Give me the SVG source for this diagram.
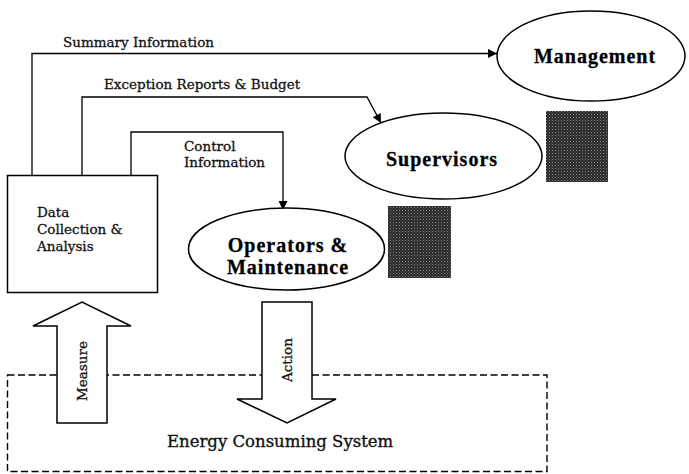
<svg xmlns="http://www.w3.org/2000/svg" width="689" height="474" viewBox="0 0 689 474">
<style>
.ln{fill:none;stroke:#000;stroke-width:1.3}
.nd{fill:#fff;stroke:#000;stroke-width:1.5}
.lbl{font-family:"DejaVu Serif","Liberation Serif",serif;font-size:13.5px;fill:#111;stroke:#111;stroke-width:0.3}
.big{font-family:"Liberation Serif","Times New Roman",serif;font-size:20px;font-weight:bold;letter-spacing:1px;fill:#000;stroke:#000;stroke-width:0.3}
.sys{font-family:"DejaVu Serif","Liberation Serif",serif;font-size:16.5px;fill:#111;stroke:#111;stroke-width:0.35}
</style>
<defs>
<marker id="ah" viewBox="0 0 10 10" refX="10" refY="5" markerWidth="11" markerHeight="9" markerUnits="userSpaceOnUse" orient="auto">
<path d="M0,0 L10,5 L0,10 z" fill="#000"/>
</marker>
<pattern id="stip" width="3" height="3" patternUnits="userSpaceOnUse">
<rect width="3" height="3" fill="#2b2b2b"/>
<rect x="0" y="0" width="1" height="1" fill="#8a8a8a"/>
<rect x="1.5" y="1.5" width="1" height="1" fill="#5a5a5a"/>
</pattern>
</defs>
<rect width="689" height="474" fill="#fff"/>

<g id="system">
<rect x="7.5" y="375" width="539.5" height="96.5" fill="none" stroke="#000" stroke-width="1.4" stroke-dasharray="7,3.5"/>
<text class="sys" x="167" y="447">Energy Consuming System</text>
</g>

<g id="connectors">
<polyline class="ln" points="32,175 32,53.5 497,53.5" marker-end="url(#ah)"/>
<polyline class="ln" points="82,175 82,97 367,97 381,123" marker-end="url(#ah)"/>
<polyline class="ln" points="131,175 131,132 283,132 283,210" marker-end="url(#ah)"/>
<text class="lbl" x="63" y="47">Summary Information</text>
<text class="lbl" x="104" y="89">Exception Reports &amp; Budget</text>
<text class="lbl" x="184" y="151">Control</text>
<text class="lbl" x="184" y="167">Information</text>
</g>

<g id="data-collection">
<rect class="nd" x="7.5" y="175.5" width="150" height="117"/>
<text class="lbl" x="37" y="217">Data</text>
<text class="lbl" x="37" y="234">Collection &amp;</text>
<text class="lbl" x="37" y="251">Analysis</text>
</g>

<g id="management">
<ellipse class="nd" cx="591" cy="56" rx="94" ry="45"/>
<text class="big" x="595" y="63" text-anchor="middle">Management</text>
<rect x="546" y="111" width="62" height="71" fill="url(#stip)"/>
</g>

<g id="supervisors">
<ellipse class="nd" cx="443.5" cy="156" rx="98.5" ry="43"/>
<text class="big" x="442" y="166" text-anchor="middle">Supervisors</text>
<rect x="388" y="206" width="63" height="72" fill="url(#stip)"/>
</g>

<g id="operators">
<ellipse class="nd" cx="286.5" cy="249" rx="98" ry="41"/>
<text class="big" x="288" y="252" text-anchor="middle">Operators &amp;</text>
<text class="big" x="288" y="274" text-anchor="middle">Maintenance</text>
</g>

<g id="measure">
<polygon class="nd" points="57,423 57,326 33,326 82,302 131,326 107,326 107,423"/>
<text class="lbl" transform="translate(87,371) rotate(-90)" text-anchor="middle">Measure</text>
</g>

<g id="action">
<polygon class="nd" points="262,302 312,302 312,399 336,399 287,423 237,399 262,399"/>
<text class="lbl" transform="translate(292,360) rotate(-90)" text-anchor="middle">Action</text>
</g>
</svg>
